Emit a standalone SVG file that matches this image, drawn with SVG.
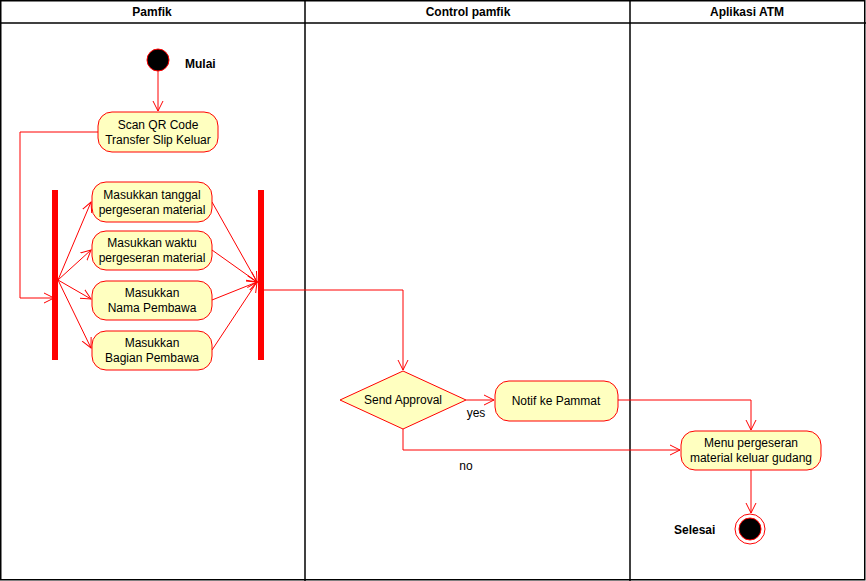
<svg xmlns="http://www.w3.org/2000/svg" width="866" height="581" viewBox="0 0 866 581">
<style>
text{font-family:"Liberation Sans",Arial,sans-serif;font-size:12px;fill:#000}
.h{font-weight:bold}
.lane{fill:none;stroke:#000;stroke-width:1.5}
.act{fill:#ffffc0;stroke:#ff0000;stroke-width:1}
.c{fill:none;stroke:#ff0000;stroke-width:1}
.bar{fill:#ff0000}
</style>
<defs>
<marker id="a" markerWidth="14" markerHeight="14" refX="10" refY="5" orient="auto" markerUnits="userSpaceOnUse" viewBox="0 0 14 10">
<path d="M0,0 L10,5 L0,10" fill="none" stroke="#ff0000" stroke-width="1"/>
</marker>
</defs>
<rect width="866" height="581" fill="#fff"/>
<g id="lanes">
<rect class="lane" x="0.75" y="0.75" width="864" height="579"/>
<line class="lane" x1="0" y1="23" x2="866" y2="23"/>
<line class="lane" x1="305" y1="0" x2="305" y2="581"/>
<line class="lane" x1="630" y1="0" x2="630" y2="581"/>
<text class="h" x="152" y="16" text-anchor="middle">Pamfik</text>
<text class="h" x="468" y="16" text-anchor="middle">Control pamfik</text>
<text class="h" x="747" y="16" text-anchor="middle">Aplikasi ATM</text>
</g>
<g id="connectors">
<path class="c" d="M158,71 L158,111" marker-end="url(#a)"/>
<path class="c" d="M98,132 L20,132 L20,298 L54,298" marker-end="url(#a)"/>
<path class="c" d="M58,280 L91,202" marker-end="url(#a)"/>
<path class="c" d="M58,280 L91,250" marker-end="url(#a)"/>
<path class="c" d="M58,280 L91,299" marker-end="url(#a)"/>
<path class="c" d="M58,280 L91,348" marker-end="url(#a)"/>
<path class="c" d="M212,202 L257,282" marker-end="url(#a)"/>
<path class="c" d="M212,250 L257,282" marker-end="url(#a)"/>
<path class="c" d="M212,300 L257,282" marker-end="url(#a)"/>
<path class="c" d="M212,350 L257,282" marker-end="url(#a)"/>
<path class="c" d="M264,290 L403,290 L403,370" marker-end="url(#a)"/>
<path class="c" d="M466,400 L494,400" marker-end="url(#a)"/>
<path class="c" d="M403,429 L403,450 L680,450" marker-end="url(#a)"/>
<path class="c" d="M618,400 L751,400 L751,430" marker-end="url(#a)"/>
<path class="c" d="M751,470 L751,513" marker-end="url(#a)"/>
<text x="476" y="417" text-anchor="middle" font-size="11">yes</text>
<text x="466" y="470" text-anchor="middle" font-size="11">no</text>
</g>
<g id="start">
<circle cx="158" cy="60" r="11" fill="#000" stroke="#ff0000"/>
<text class="h" x="185" y="68">Mulai</text>
</g>
<g id="scan">
<rect class="act" x="98" y="112" width="120" height="40" rx="14"/>
<text x="158" y="129" text-anchor="middle">Scan QR Code</text>
<text x="158" y="144" text-anchor="middle">Transfer Slip Keluar</text>
</g>
<g id="fork"><rect class="bar" x="52" y="190" width="6" height="170"/></g>
<g id="join"><rect class="bar" x="258" y="190" width="6" height="170"/></g>
<g id="tanggal">
<rect class="act" x="92" y="182" width="120" height="40" rx="14"/>
<text x="152" y="199" text-anchor="middle">Masukkan tanggal</text>
<text x="152" y="214" text-anchor="middle">pergeseran material</text>
</g>
<g id="waktu">
<rect class="act" x="92" y="231" width="120" height="39" rx="14"/>
<text x="152" y="247" text-anchor="middle">Masukkan waktu</text>
<text x="152" y="262" text-anchor="middle">pergeseran material</text>
</g>
<g id="nama">
<rect class="act" x="92" y="281" width="120" height="39" rx="14"/>
<text x="152" y="297" text-anchor="middle">Masukkan</text>
<text x="152" y="312" text-anchor="middle">Nama Pembawa</text>
</g>
<g id="bagian">
<rect class="act" x="92" y="331" width="120" height="39" rx="14"/>
<text x="152" y="347" text-anchor="middle">Masukkan</text>
<text x="152" y="362" text-anchor="middle">Bagian Pembawa</text>
</g>
<g id="decision">
<polygon class="act" points="403,371 466,400 403,429 340,400"/>
<text x="403" y="404" text-anchor="middle">Send Approval</text>
</g>
<g id="notif">
<rect class="act" x="495" y="381" width="123" height="40" rx="14"/>
<text x="556" y="405" text-anchor="middle">Notif ke Pammat</text>
</g>
<g id="menu">
<rect class="act" x="681" y="431" width="140" height="39" rx="14"/>
<text x="751" y="447" text-anchor="middle">Menu pergeseran</text>
<text x="751" y="462" text-anchor="middle">material keluar gudang</text>
</g>
<g id="end">
<circle cx="750" cy="529" r="15" fill="#fff" stroke="#ff0000"/>
<circle cx="750" cy="529" r="11" fill="#000" stroke="#ff0000"/>
<text class="h" x="674" y="534">Selesai</text>
</g>
</svg>
